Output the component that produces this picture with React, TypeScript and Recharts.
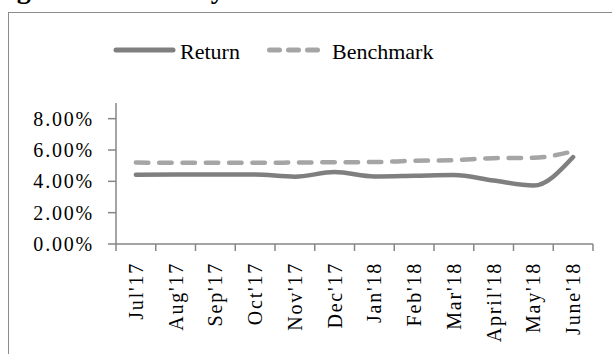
import React from "react";
import { LineChart, Line, XAxis, YAxis, Legend } from "recharts";

const months = ["Jul'17", "Aug'17", "Sep'17", "Oct'17", "Nov'17", "Dec'17", "Jan'18", "Feb'18", "Mar'18", "April'18", "May'18", "June'18"];
const returnPct = [4.42, 4.43, 4.44, 4.43, 4.3, 4.59, 4.31, 4.35, 4.4, 4.05, 3.73, 5.55];
const benchmarkPct = [5.2, 5.18, 5.18, 5.18, 5.2, 5.22, 5.23, 5.31, 5.35, 5.48, 5.5, 5.92];
const yTicks = [0, 2, 4, 6, 8];

const FONT = "'Liberation Serif', 'Times New Roman', serif";
const AXIS = "#868686";

// x sits in the middle of each month's band, so the boundary ticks fall on integers
const data = months.map((m, i) => ({ x: i + 0.5, month: m, ret: returnPct[i], bench: benchmarkPct[i] }));
const xTicks = Array.from({ length: months.length * 2 + 1 }, (_, i) => i / 2);

const MonthTick = (props: any) => {
    const { x, y, payload } = props;
    const v = payload.value;
    if (Number.isInteger(v)) {
        return <line x1={x} x2={x} y1={y} y2={y + 7} stroke={AXIS} strokeWidth={1.5} />;
    }
    const label = months[Math.floor(v)];
    const ty = y + 18;
    return (
        <text
            x={x}
            y={ty}
            transform={`rotate(-90, ${x}, ${ty})`}
            textAnchor="end"
            dominantBaseline="central"
            fontFamily={FONT}
            fontSize={20}
            letterSpacing={1.8}
            fill="#000"
        >
            {label}
        </text>
    );
};

const LegendBox = () => (
    <svg width={612} height={40} style={{ display: "block" }}>
        <line x1={116} x2={173} y1={20} y2={20} stroke="#7f7f7f" strokeWidth={5} strokeLinecap="round" />
        <text x={180} y={29} fontFamily={FONT} fontSize={22} fill="#000">Return</text>
        <line x1={269.5} x2={317.5} y1={20} y2={20} stroke="#a5a5a5" strokeWidth={5} strokeLinecap="round" strokeDasharray="10 9" />
        <text x={332} y={29} fontFamily={FONT} fontSize={22} fill="#000">Benchmark</text>
    </svg>
);

export default function App() {
    return (
        <div style={{ position: "absolute", left: 0, top: 0, width: 612, height: 354, overflow: "hidden", background: "#fff" }}>
            <svg width={612} height={14} style={{ position: "absolute", left: 0, top: 0 }}>
                <text x={-12} y={-2} fontFamily={FONT} fontWeight="bold" fontSize={28} textLength={482} lengthAdjust="spacing" fill="#000">
                    Figure 1: History and Performance
                </text>
            </svg>
            <div style={{ position: "absolute", left: 8, top: 12, width: 700, height: 400, border: "1.5px solid #8c8c8c" }} />
            <div style={{ position: "absolute", left: 0, top: 0 }}>
                <LineChart width={612} height={354} data={data} margin={{ top: 103, right: 19, left: 0, bottom: 0 }}>
                    <XAxis
                        dataKey="x"
                        type="number"
                        domain={[0, months.length]}
                        ticks={xTicks}
                        interval={0}
                        height={110}
                        tickSize={0}
                        tickMargin={0}
                        tickLine={false}
                        axisLine={{ stroke: AXIS, strokeWidth: 1.5 }}
                        tick={<MonthTick />}
                    />
                    <YAxis
                        width={116}
                        domain={[0, 9]}
                        ticks={yTicks}
                        interval={0}
                        tickSize={8}
                        tickMargin={14}
                        tickFormatter={(v: number) => `${v.toFixed(2)}%`}
                        axisLine={{ stroke: AXIS, strokeWidth: 1.5 }}
                        tickLine={{ stroke: AXIS, strokeWidth: 1.5 }}
                        tick={{ fontFamily: FONT, fontSize: 20, fill: "#000", letterSpacing: 1.8 }}
                    />
                    <Legend
                        layout="horizontal"
                        verticalAlign="middle"
                        align="center"
                        wrapperStyle={{ top: 30, left: 0, width: 612 }}
                        content={<LegendBox />}
                    />
                    <Line
                        type="monotone"
                        dataKey="bench"
                        name="Benchmark"
                        stroke="#a5a5a5"
                        strokeWidth={4.5}
                        strokeLinecap="round"
                        strokeDasharray="12.5 10.8"
                        dot={false}
                        isAnimationActive={false}
                    />
                    <Line
                        type="monotone"
                        dataKey="ret"
                        name="Return"
                        stroke="#7f7f7f"
                        strokeWidth={4.5}
                        strokeLinecap="round"
                        dot={false}
                        isAnimationActive={false}
                    />
                </LineChart>
            </div>
        </div>
    );
}
